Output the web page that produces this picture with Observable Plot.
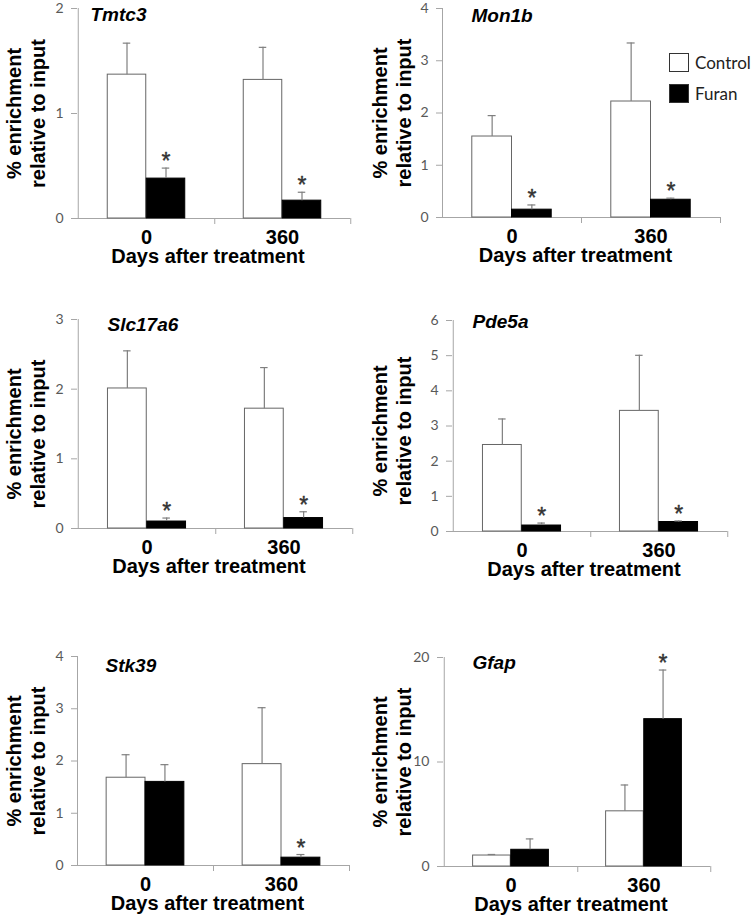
<!DOCTYPE html>
<html>
<head>
<meta charset="utf-8">
<script src="https://cdn.jsdelivr.net/npm/d3@7"></script>
<script src="https://cdn.jsdelivr.net/npm/@observablehq/plot@0.6"></script>
<style>
  body { margin: 0; background: #fff; }
  #root { position: relative; width: 755px; height: 917px; overflow: hidden; background: #fff; }
  .panel { position: absolute; }
  .legend-item { position: absolute; display: flex; align-items: center; font-family: Lato, sans-serif; font-size: 17px; color: #222; }
  .swatch { width: 20px; height: 19px; box-sizing: border-box; border: 1px solid #333; margin-right: 6px; }
</style>
</head>
<body>
<div id="root"></div>
<script>
// ---------------- data ----------------
const genes = ["Tmtc3", "Mon1b", "Slc17a6", "Pde5a", "Stk39", "Gfap"];
const days = ["0", "360"];
const controlMean = [[1.37, 1.32], [1.55, 2.22], [2.01, 1.72], [2.46, 3.43], [1.68, 1.94], [1.05, 5.28]];
const controlSem  = [[0.30, 0.31], [0.40, 1.12], [0.54, 0.59], [0.74, 1.58], [0.44, 1.08], [0.10, 2.52]];
const furanMean   = [[0.38, 0.17], [0.15, 0.34], [0.10, 0.15], [0.17, 0.27], [1.60, 0.15], [1.60, 14.1]];
const furanSem    = [[0.10, 0.08], [0.09, 0.03], [0.05, 0.09], [0.07, 0.03], [0.33, 0.06], [1.04, 4.70]];
const furanSignificant = [[1, 1], [1, 1], [1, 1], [1, 1], [0, 1], [0, 1]];
const yMax = [2, 4, 3, 6, 4, 20];
const yTicks = [[0, 1, 2], [0, 1, 2, 3, 4], [0, 1, 2, 3], [0, 1, 2, 3, 4, 5, 6], [0, 1, 2, 3, 4], [0, 10, 20]];
const yLabel = "% enrichment\nrelative to input";
const xLabel = "Days after treatment";
const legendLabels = ["Control", "Furan"];

// ---------------- layout ----------------
const layout = [
  {left: 0,   top: 0,   width: 355, height: 280, mL: 77, mR: 5,  mT: 8,  mB: 62, titleDx: 13, titleDy: 12, ylDx: -52.5, ylDy: 0},
  {left: 355, top: 0,   width: 400, height: 280, mL: 87, mR: 35, mT: 8,  mB: 63, titleDx: 29, titleDy: 13, ylDx: -51.5, ylDy: 0},
  {left: 0,   top: 280, width: 355, height: 305, mL: 77, mR: 3,  mT: 39, mB: 57, titleDx: 30, titleDy: 11, ylDx: -52.5, ylDy: 10},
  {left: 355, top: 280, width: 400, height: 305, mL: 97, mR: 28, mT: 40, mB: 54, titleDx: 20, titleDy: 7,  ylDx: -61.5, ylDy: 5},
  {left: 0,   top: 585, width: 355, height: 332, mL: 77, mR: 6,  mT: 71, mB: 52, titleDx: 28, titleDy: 15, ylDx: -52.5, ylDy: 0},
  {left: 355, top: 585, width: 400, height: 332, mL: 88, mR: 45, mT: 72, mB: 51, titleDx: 29, titleDy: 11, ylDx: -52.5, ylDy: 0}
];

const BOLD = "'Liberation Sans', Arial, Helvetica, sans-serif";
const AXIS = "#a6a6a6";
const ERR = "#7f7f7f";

function panel(i) {
  const L = layout[i];
  const bw = (L.width - L.mL - L.mR) / 2;
  const barW = bw * 2 / 7;
  const inner = bw * 3 / 14;
  const off = barW / 2;
  const ctrl = days.map((d, j) => ({day: d, mean: controlMean[i][j], sem: controlSem[i][j]}));
  const fur = days.map((d, j) => ({day: d, mean: furanMean[i][j], sem: furanSem[i][j], sig: furanSignificant[i][j]}));
  return Plot.plot({
    width: L.width,
    height: L.height,
    marginLeft: L.mL,
    marginRight: L.mR,
    marginTop: L.mT,
    marginBottom: L.mB,
    style: {fontFamily: "Lato, sans-serif", fontSize: "14px", background: "transparent", overflow: "visible"},
    x: {type: "band", domain: days, padding: 0, axis: null},
    y: {domain: [0, yMax[i]], axis: null},
    marks: [
      Plot.axisY({ticks: yTicks[i], tickSize: 6, tickPadding: 8, stroke: AXIS, fill: "#595959", fontSize: 14, label: null, tickFormat: d => String(d)}),
      Plot.ruleX([days[0]], {x: d => d, y1: 0, y2: yMax[i], dx: -bw / 2, stroke: AXIS}),
      Plot.ruleY([0], {stroke: AXIS}),
      Plot.ruleX(days, {x: d => d, y1: 0, y2: 0, insetBottom: -6, dx: bw / 2, stroke: AXIS}),
      Plot.axisX({tickSize: 0, tickPadding: 11, fontSize: 20, fontWeight: "bold", fontFamily: BOLD, fill: "black", label: null}),
      Plot.text([xLabel], {text: d => d, frameAnchor: "bottom", dy: 44, dx: -6, lineAnchor: "bottom", fontSize: 20, fontWeight: "bold", fontFamily: BOLD, fill: "black"}),
      Plot.text([yLabel], {text: d => d, frameAnchor: "left", rotate: -90, textAnchor: "middle", lineAnchor: "middle", dx: L.ylDx, dy: L.ylDy, lineHeight: 1.2, fontSize: 20, fontWeight: "bold", fontFamily: BOLD, fill: "black"}),
      Plot.text([genes[i]], {text: d => d, frameAnchor: "top-left", dx: L.titleDx, dy: L.titleDy, lineAnchor: "bottom", textAnchor: "start", fontSize: 19, fontWeight: "bold", fontStyle: "italic", fontFamily: BOLD, fill: "black"}),
      Plot.barY(ctrl, {x: "day", y: "mean", fill: "white", stroke: "#666", insetLeft: inner, insetRight: bw / 2}),
      Plot.barY(fur, {x: "day", y: "mean", fill: "black", stroke: "black", insetLeft: bw / 2, insetRight: inner}),
      Plot.ruleX(ctrl, {x: "day", y1: "mean", y2: d => d.mean + d.sem, dx: -off, stroke: ERR, strokeWidth: 1.2}),
      Plot.tickY(ctrl, {x: "day", y: d => d.mean + d.sem, dx: -off, insetLeft: bw / 2 - 4, insetRight: bw / 2 - 4, stroke: ERR, strokeWidth: 1.2}),
      Plot.ruleX(fur, {x: "day", y1: "mean", y2: d => d.mean + d.sem, dx: off, stroke: ERR, strokeWidth: 1.2}),
      Plot.tickY(fur, {x: "day", y: d => d.mean + d.sem, dx: off, insetLeft: bw / 2 - 4, insetRight: bw / 2 - 4, stroke: ERR, strokeWidth: 1.2}),
      Plot.text(fur.filter(d => d.sig), {x: "day", y: d => d.mean + d.sem, text: () => "*", dx: off, dy: 1, lineAnchor: "bottom", fontSize: 23, fontFamily: BOLD, fill: "#333", stroke: "#333", strokeWidth: 0.4})
    ]
  });
}

const root = document.getElementById("root");
genes.forEach((g, i) => {
  const L = layout[i];
  const div = document.createElement("div");
  div.className = "panel";
  div.style.left = L.left + "px";
  div.style.top = L.top + "px";
  div.appendChild(panel(i));
  root.appendChild(div);
});

// legend (in the Mon1b panel)
const legendPos = [{left: 669, top: 52}, {left: 669, top: 83}];
const legendFill = ["white", "black"];
legendLabels.forEach((lab, k) => {
  const item = document.createElement("div");
  item.className = "legend-item";
  item.style.left = legendPos[k].left + "px";
  item.style.top = legendPos[k].top + "px";
  const sw = document.createElement("div");
  sw.className = "swatch";
  sw.style.background = legendFill[k];
  item.appendChild(sw);
  const t = document.createElement("span");
  t.textContent = lab;
  item.appendChild(t);
  root.appendChild(item);
});
</script>
</body>
</html>
